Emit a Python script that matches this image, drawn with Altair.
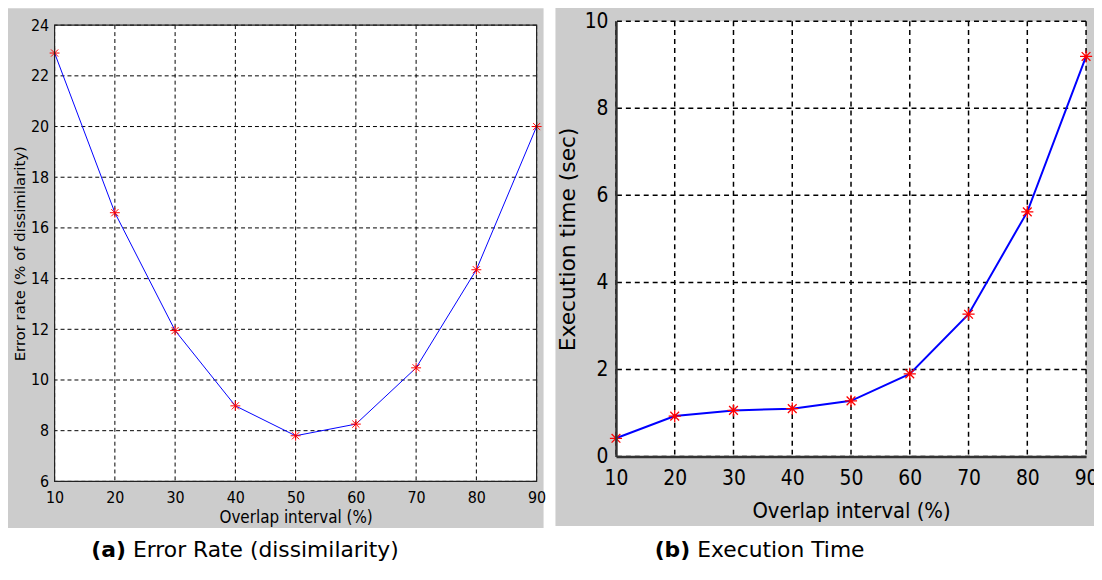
import altair as alt
import pandas as pd

# ---------------- data ----------------
intervals = [10, 20, 30, 40, 50, 60, 70, 80, 90]
error_rate = [22.9, 16.6, 11.95, 8.98, 7.8, 8.26, 10.48, 14.35, 20.0]
exec_time = [0.42, 0.93, 1.06, 1.10, 1.28, 1.90, 3.27, 5.62, 9.19]

x_ticks = [10, 20, 30, 40, 50, 60, 70, 80, 90]
err_ticks = [6, 8, 10, 12, 14, 16, 18, 20, 22, 24]
time_ticks = [0, 2, 4, 6, 8, 10]

x_title = "Overlap interval (%)"
err_title = "Error rate (% of dissimilarity)"
time_title = "Execution time (sec)"
cap_a = ["(a)", "Error Rate (dissimilarity)"]
cap_b = ["(b)", "Execution Time"]

NARROW = "Liberation Sans Narrow, Arial Narrow, DejaVu Sans Condensed, sans-serif"
ARIAL = "Liberation Sans, Arial, sans-serif"
DEJAVU = "DejaVu Sans, Verdana, sans-serif"
GRAY = "#cccccc"
STAR = "M-1,0L1,0M0,-1L0,1M-0.72,-0.72L0.72,0.72M-0.72,0.72L0.72,-0.72"

one = pd.DataFrame({"k": [0]})


def rect(color, x, x2, y, y2, **kw):
    return alt.Chart(one).mark_rect(color=color, **kw).encode(
        x=alt.value(x), x2=alt.value(x2), y=alt.value(y), y2=alt.value(y2)
    )


def text(t, x, y, bold):
    return alt.Chart(one).mark_text(
        text=t, font=DEJAVU, fontSize=22, fontWeight="bold" if bold else "normal",
        align="left", baseline="middle", color="black"
    ).encode(x=alt.value(x), y=alt.value(y))


# ---------------- left panel ----------------
WL, HL = 486, 460
xs_l = alt.Scale(domain=[10, 90], nice=False, zero=False)
ys_l = alt.Scale(domain=[6, 24], nice=False, zero=False)

df_l = pd.DataFrame({"interval": intervals, "value": error_rate})

xaxis_l = alt.Axis(
    values=x_ticks, grid=False, ticks=False, domain=False, labelFlush=False,
    labelOverlap=False, labelFont=NARROW, labelFontSize=16, labelColor="black",
    labelPadding=8, title=x_title, titleFont=NARROW, titleFontSize=17,
    titleFontWeight="normal", titleColor="black", titlePadding=4, zindex=1,
)
yaxis_l = alt.Axis(
    values=err_ticks, grid=False, ticks=False, domain=False, labelFlush=False,
    labelOverlap=False, labelFont=NARROW, labelFontSize=16, labelColor="black",
    labelPadding=6, title=err_title, titleFont=DEJAVU, titleFontSize=15,
    titleFontWeight="normal", titleColor="black", titlePadding=3, zindex=1,
)
xl = alt.X("interval:Q", scale=xs_l, axis=xaxis_l)
yl = alt.Y("value:Q", scale=ys_l, axis=yaxis_l)

left = alt.layer(
    rect(GRAY, -49, WL + 7, -17, HL + 47),
    rect("white", 0, WL, 0, HL),
    alt.Chart(pd.DataFrame({"interval": x_ticks})).mark_rule(
        color="black", strokeDash=[4, 3], strokeWidth=1
    ).encode(x=xl),
    alt.Chart(pd.DataFrame({"value": err_ticks})).mark_rule(
        color="black", strokeDash=[4, 3], strokeWidth=1
    ).encode(y=yl),
    alt.Chart(df_l).mark_line(color="#0000ff", strokeWidth=1).encode(x=xl, y=yl),
    alt.Chart(df_l).mark_point(
        shape=STAR, color="#ff0000", size=100, strokeWidth=1, filled=False, opacity=1
    ).encode(x=xl, y=yl),
    rect("black", 0, WL, 0, HL, fillOpacity=0, stroke="#222222", strokeWidth=1.2),
    text(cap_a[0], 37, 529, True),
    text(cap_a[1], 79, 529, False),
).properties(width=WL, height=HL)

# ---------------- right panel ----------------
# panel origin sits at the same height as the left one; the y range starts 4px higher
WR, HR, TOP = 474, 435, -4
xs_r = alt.Scale(domain=[10, 90], nice=False, zero=False)
ys_r = alt.Scale(domain=[0, 10], nice=False, zero=False, range=[HR, TOP])

df_r = pd.DataFrame({"interval": intervals, "value": exec_time})

xaxis_r = alt.Axis(
    values=x_ticks, grid=False, ticks=False, domain=True, domainColor="#333333",
    domainWidth=2.5, labelFlush=False, labelOverlap=False, labelFont=NARROW,
    labelFontSize=21, labelColor="black", labelPadding=11, title=x_title,
    titleFont=NARROW, titleFontSize=22, titleFontWeight="normal",
    titleColor="black", titlePadding=12, zindex=1,
)
yaxis_r = alt.Axis(
    values=time_ticks, grid=False, ticks=False, domain=True, domainColor="#333333",
    domainWidth=2.5, labelFlush=False, labelOverlap=False, labelFont=NARROW,
    labelFontSize=21, labelColor="black", labelPadding=8, title=time_title,
    titleFont=DEJAVU, titleFontSize=22, titleFontWeight="normal",
    titleColor="black", titlePadding=5, zindex=1,
)
xr = alt.X("interval:Q", scale=xs_r, axis=xaxis_r)
yr = alt.Y("value:Q", scale=ys_r, axis=yaxis_r)

right = alt.layer(
    rect(GRAY, -61, WR + 8, TOP - 17, HR + 70),
    rect("white", 0, WR, TOP, HR),
    alt.Chart(pd.DataFrame({"interval": x_ticks})).mark_rule(
        color="black", strokeDash=[5, 4], strokeWidth=1.5
    ).encode(x=xr, y=alt.value(TOP), y2=alt.value(HR)),
    alt.Chart(pd.DataFrame({"value": time_ticks})).mark_rule(
        color="black", strokeDash=[5, 4], strokeWidth=1.5
    ).encode(y=yr),
    alt.Chart(df_r).mark_line(color="#0000ff", strokeWidth=2).encode(x=xr, y=yr),
    alt.Chart(df_r).mark_point(
        shape=STAR, color="#ff0000", size=150, strokeWidth=1.3, filled=False, opacity=1
    ).encode(x=xr, y=yr),
    text(cap_b[0], 39, 529, True),
    text(cap_b[1], 82, 529, False),
).properties(width=WR, height=HR)

chart = alt.hconcat(left, right, spacing=9).properties(
    padding={"left": -2, "top": -6, "right": -5, "bottom": 0},
    background="white",
).configure_view(strokeWidth=0)

chart.save("out.html", embed_options={"renderer": "svg", "actions": False})
